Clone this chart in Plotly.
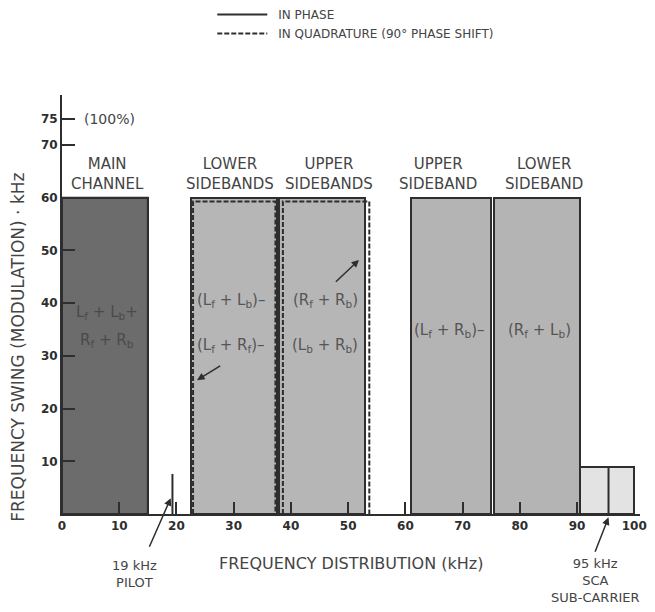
import plotly.graph_objects as go

# Spectrum bands (kHz) and swing (kHz)
band_names = ["MAIN<br>CHANNEL", "LOWER<br>SIDEBANDS", "UPPER<br>SIDEBANDS",
              "UPPER<br>SIDEBAND", "LOWER<br>SIDEBAND", "SCA"]
band_start = [0.0, 22.6, 38.0, 60.9, 75.4, 90.5]
band_end = [15.0, 37.5, 53.0, 74.9, 90.5, 100.0]
band_height = [60, 60, 60, 60, 60, 9]
band_fill = ["#6c6c6c", "#b6b6b6", "#b6b6b6", "#b4b4b4", "#b4b4b4", "#e3e3e3"]
heading_x = [7.9, 29.4, 46.7, 65.7, 84.2]

# quadrature (dashed) envelopes of the two stereo-difference sidebands
quad_start = [22.9, 38.6]
quad_end = [37.3, 53.7]
quad_height = [59.3, 59.3]

pilot_freq = 19.3
pilot_height = 7.6
sca_freq = 95.5

# signal labels inside the bands
inner_x = [7.8, 7.8, 29.5, 29.5, 46.0, 46.0, 67.6, 83.4]
inner_y = [38.3, 33.0, 40.6, 32.0, 40.6, 32.0, 34.9, 34.9]
inner_text = ["L<sub>f</sub> + L<sub>b</sub>+", "R<sub>f</sub> + R<sub>b</sub>",
              "(L<sub>f</sub> + L<sub>b</sub>)–", "(L<sub>f</sub> + R<sub>f</sub>)–",
              "(R<sub>f</sub> + R<sub>b</sub>)", "(L<sub>b</sub> + R<sub>b</sub>)",
              "(L<sub>f</sub> + R<sub>b</sub>)–", "(R<sub>f</sub> + L<sub>b</sub>)"]

x_ticks = [0, 10, 20, 30, 40, 50, 60, 70, 80, 90, 100]
y_ticks = [10, 20, 30, 40, 50, 60, 70, 75]

FONT = "DejaVu Sans"
INK = "#2e2e2e"
TXT = "#444444"

fig = go.Figure()

# filled bands
for s, e, h, c in zip(band_start, band_end, band_height, band_fill):
    fig.add_trace(go.Bar(
        x=[(s + e) / 2], y=[h], width=[e - s], base=0,
        marker=dict(color=c, line=dict(color=INK, width=2)),
        showlegend=False, hoverinfo="skip",
    ))

# solid (in-phase) outline used for the legend
s, e, h = band_start[0], band_end[0], band_height[0]
fig.add_trace(go.Scatter(
    x=[s, s, e, e], y=[0, h, h, 0], mode="lines",
    line=dict(color=INK, width=2), name="\u2002IN PHASE", hoverinfo="skip",
))

# dashed (quadrature) outlines
for i, (s, e, h) in enumerate(zip(quad_start, quad_end, quad_height)):
    fig.add_trace(go.Scatter(
        x=[s, s, e, e], y=[0, h, h, 0], mode="lines",
        line=dict(color=INK, width=2, dash="5px,2px"),
        name="\u2002IN QUADRATURE (90° PHASE SHIFT)", showlegend=(i == 0),
        hoverinfo="skip",
    ))

# pilot and SCA carrier lines
fig.add_trace(go.Scatter(x=[pilot_freq, pilot_freq], y=[0, pilot_height], mode="lines",
                         line=dict(color=INK, width=2), showlegend=False, hoverinfo="skip"))
fig.add_trace(go.Scatter(x=[sca_freq, sca_freq], y=[0, band_height[-1]], mode="lines",
                         line=dict(color=INK, width=2), showlegend=False, hoverinfo="skip"))

# band headings
for hx, name in zip(heading_x, band_names[:5]):
    fig.add_annotation(x=hx, y=60, text=name, showarrow=False,
                       yanchor="bottom", yshift=3,
                       font=dict(family=FONT, size=15, color=TXT))

for x, y, t in zip(inner_x, inner_y, inner_text):
    col = "#4a4a4a" if x < 15 else "#555555"
    fig.add_annotation(x=x, y=y, text=t, showarrow=False,
                       font=dict(family=FONT, size=15, color=col))

fig.add_annotation(x=3.5, y=75, text="(100%)", showarrow=False, xanchor="left",
                   font=dict(family=FONT, size=14, color=TXT))

# arrows to the dashed envelopes
arrow = dict(showarrow=True, arrowhead=2, arrowsize=1, arrowwidth=1.5,
             arrowcolor=INK, axref="x", ayref="y", text="")
fig.add_annotation(x=23.6, y=25.4, ax=27.9, ay=28.3, **arrow)
fig.add_annotation(x=51.9, y=48.2, ax=47.6, ay=43.8, **arrow)

# pilot and SCA callouts
callout = dict(showarrow=True, arrowhead=2, arrowsize=1, arrowwidth=1.5,
               arrowcolor=INK, text="")
fig.add_annotation(x=19.0, y=3.0, ax=-22, ay=50, **callout)
fig.add_annotation(x=sca_freq, y=-0.008, yref="paper", ax=-14, ay=36, **callout)

fig.add_annotation(x=12.7, y=-0.185, yref="paper", text="19 kHz<br>PILOT",
                   showarrow=False, font=dict(family=FONT, size=13, color=TXT))
fig.add_annotation(x=93.2, y=-0.222, yref="paper", text="95 kHz<br>SCA<br>SUB-CARRIER",
                   showarrow=False, font=dict(family=FONT, size=13, color=TXT))

fig.add_annotation(x=0.5, y=-0.117, xref="paper", yref="paper",
                   text="FREQUENCY DISTRIBUTION (kHz)", showarrow=False,
                   xanchor="center", yanchor="middle",
                   font=dict(family=FONT, size=16, color=TXT))
fig.add_annotation(x=-0.076, y=0.397, xref="paper", yref="paper", textangle=-90,
                   text="FREQUENCY SWING (MODULATION) · kHz", showarrow=False,
                   xanchor="center", yanchor="middle",
                   font=dict(family=FONT, size=17, color=TXT))

fig.update_layout(
    width=639, height=596,
    margin=dict(l=54, r=7, t=87, b=90, autoexpand=False),
    plot_bgcolor="white", paper_bgcolor="white",
    barmode="overlay", bargap=0,
    font=dict(family=FONT, color=TXT),
    legend=dict(x=0.26, y=1.2267, xanchor="left", yanchor="top",
                font=dict(family=FONT, size=12, color=TXT),
                itemwidth=50, tracegroupgap=0, bgcolor="rgba(0,0,0,0)"),
    xaxis=dict(range=[0, 101], tickvals=x_ticks, ticks="inside", ticklen=12,
               tickwidth=2, tickcolor=INK, showline=True, linecolor=INK,
               linewidth=2, showgrid=False, zeroline=False, automargin=False,
               tickfont=dict(family=FONT, size=12, color=INK, weight="bold")),
    yaxis=dict(range=[0, 79.5], tickvals=y_ticks, ticks="inside", ticklen=13,
               tickwidth=2, tickcolor=INK, showline=True, linecolor=INK,
               linewidth=2, showgrid=False, zeroline=False, automargin=False,
               tickfont=dict(family=FONT, size=12, color=INK, weight="bold")),
)

fig.write_html("out.html")
